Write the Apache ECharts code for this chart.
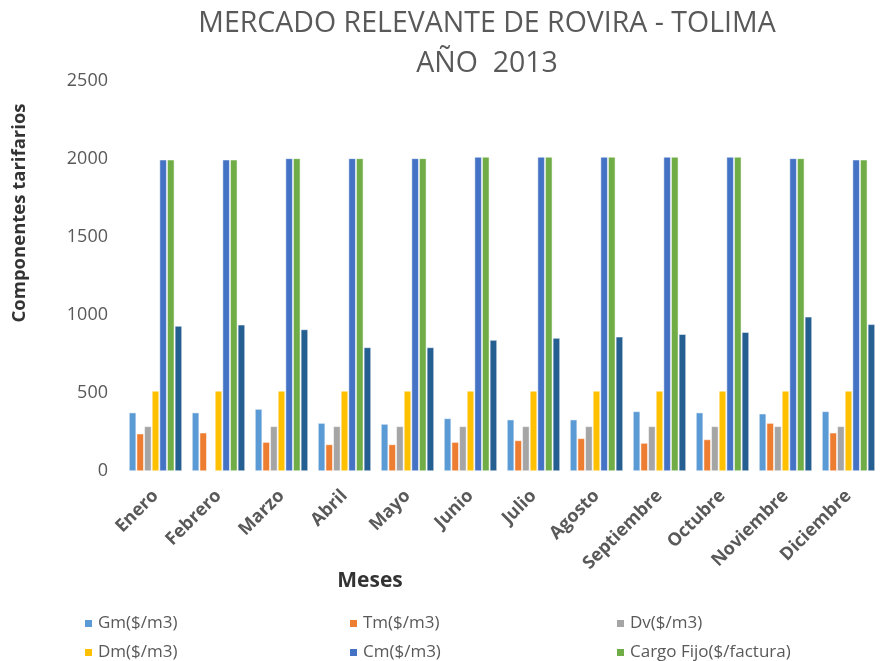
<!DOCTYPE html>
<html lang="es">
<head>
    <meta charset="UTF-8">
    <title>Mercado relevante de Rovira - Tolima</title>
    <script src="https://cdn.jsdelivr.net/npm/echarts@6/dist/echarts.min.js"></script>
    <style>
        html, body { margin: 0; padding: 0; background: #fff; }
        #myChart { width: 880px; height: 661px; }
    </style>
</head>
<body>
<div id="myChart"></div>
<script type="text/javascript">
    var meses = ['Enero', 'Febrero', 'Marzo', 'Abril', 'Mayo', 'Junio', 'Julio', 'Agosto',
        'Septiembre', 'Octubre', 'Noviembre', 'Diciembre'];
    var yTicks = [0, 500, 1000, 1500, 2000, 2500];

    var gm = [374, 374, 397, 307, 301, 337, 329, 329, 382, 374, 367, 382];
    var tm = [239, 245, 185, 170, 170, 185, 196, 209, 179, 202, 307, 245];
    var dv = [286, 0, 286, 286, 286, 286, 286, 286, 286, 286, 286, 286];
    var dm = [513, 513, 513, 513, 513, 513, 513, 513, 513, 513, 513, 513];
    var cm = [1995, 1995, 2004, 2004, 2004, 2013, 2013, 2013, 2013, 2013, 2004, 1995];
    var cargoFijo = [1995, 1995, 2004, 2004, 2004, 2013, 2013, 2013, 2013, 2013, 2004, 1995];
    var serie7 = [929, 937, 907, 792, 792, 839, 852, 860, 877, 890, 988, 940];

    var gris = '#595959';
    var fuente = '"Open Sans", "Liberation Sans", sans-serif';

    function barra(nombre, datos, color) {
        return {
            name: nombre,
            type: 'bar',
            data: datos,
            barGap: '8%',
            barCategoryGap: '16%',
            itemStyle: {color: color, borderColor: '#ffffff', borderWidth: 0.5},
            emphasis: {disabled: true}
        };
    }

    // una leyenda por elemento, para alinear las columnas como en el original
    function leyenda(izq, arriba, nombre) {
        return {
            left: izq,
            top: arriba,
            itemWidth: 9,
            itemHeight: 9,
            itemGap: 0,
            icon: 'rect',
            data: [nombre],
            textStyle: {color: gris, fontSize: 17, fontFamily: fuente}
        };
    }

    var myChart = echarts.init(document.getElementById('myChart'));
    var option = {
        animation: false,
        textStyle: {fontFamily: fuente},
        title: {
            text: 'MERCADO RELEVANTE DE ROVIRA - TOLIMA\nAÑO  2013',
            left: 482,
            textAlign: 'center',
            top: -1,
            textStyle: {color: gris, fontSize: 28.5, fontWeight: 'normal', lineHeight: 40, fontFamily: fuente}
        },
        legend: [
            leyenda(78, 610, 'Gm($/m3)'),
            leyenda(78, 639, 'Dm($/m3)'),
            leyenda(343, 610, 'Tm($/m3)'),
            leyenda(343, 639, 'Cm($/m3)'),
            leyenda(610, 610, 'Dv($/m3)'),
            leyenda(610, 639, 'Cargo Fijo($/factura)')
        ],
        grid: {left: 124, top: 81, width: 756, height: 390},
        xAxis: {
            type: 'category',
            data: meses,
            axisLine: {show: false},
            axisTick: {show: false},
            axisLabel: {
                rotate: 45,
                interval: 0,
                margin: 22,
                color: gris,
                fontSize: 18,
                fontWeight: 'bold',
                fontFamily: fuente
            }
        },
        yAxis: {
            type: 'value',
            min: yTicks[0],
            max: yTicks[yTicks.length - 1],
            interval: 500,
            splitLine: {show: false},
            axisLine: {show: false},
            axisTick: {show: false},
            axisLabel: {
                color: gris,
                fontSize: 18,
                margin: 16,
                fontFamily: fuente,
                formatter: function (v) { return String(v); }
            }
        },
        graphic: [
            {
                type: 'text',
                x: 20,
                y: 213,
                rotation: Math.PI / 2,
                style: {
                    text: 'Componentes tarifarios',
                    fill: '#333',
                    font: 'bold 18.5px ' + fuente,
                    textAlign: 'center',
                    textVerticalAlign: 'middle'
                }
            },
            {
                type: 'text',
                x: 370,
                y: 581,
                style: {
                    text: 'Meses',
                    fill: '#333',
                    font: 'bold 21px ' + fuente,
                    textAlign: 'center',
                    textVerticalAlign: 'middle'
                }
            }
        ],
        series: [
            barra('Gm($/m3)', gm, '#5B9BD5'),
            barra('Tm($/m3)', tm, '#ED7D31'),
            barra('Dv($/m3)', dv, '#A5A5A5'),
            barra('Dm($/m3)', dm, '#FFC000'),
            barra('Cm($/m3)', cm, '#4472C4'),
            barra('Cargo Fijo($/factura)', cargoFijo, '#70AD47'),
            barra('Serie7', serie7, '#255E91')
        ]
    };
    myChart.setOption(option);
</script>
</body>
</html>
